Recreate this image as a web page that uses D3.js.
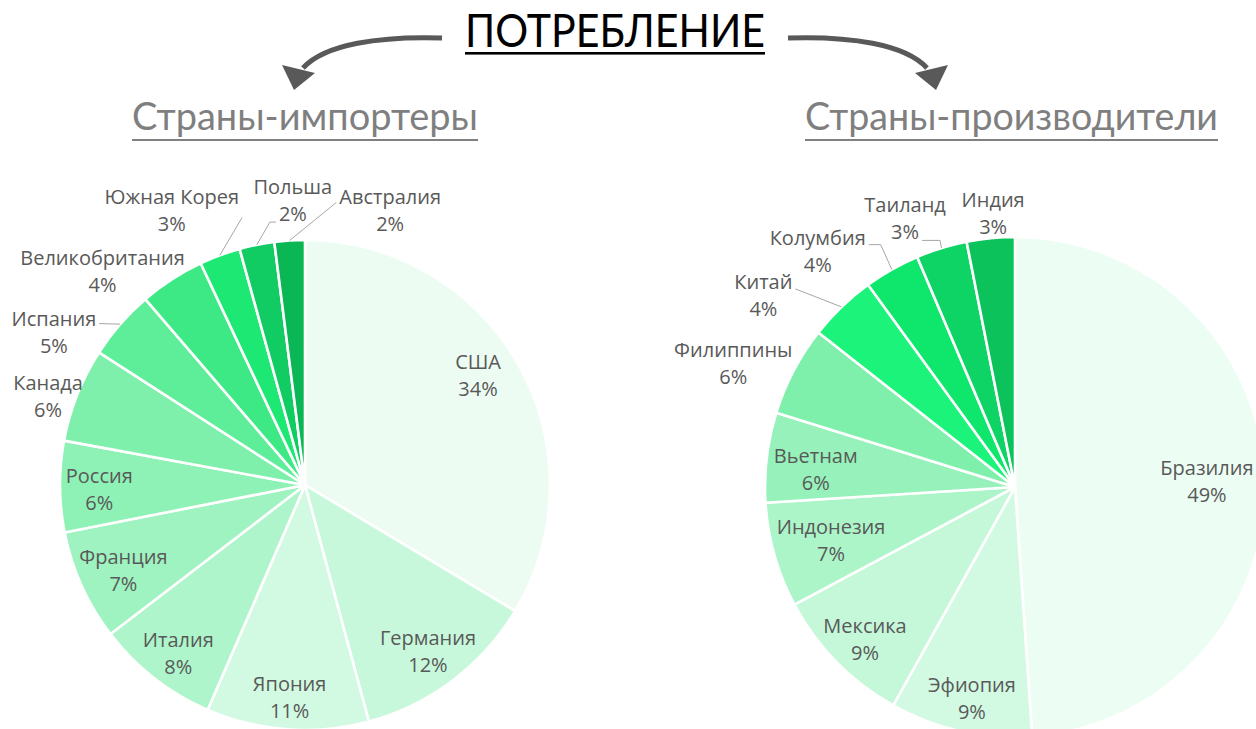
<!DOCTYPE html>
<html><head><meta charset="utf-8">
<script src="https://cdn.jsdelivr.net/npm/d3@7"></script>
<style>body{margin:0;background:#fff;} svg{display:block;}</style>
</head><body><svg id="c" width="1256" height="729"></svg>
<script>
// ---------- data ----------
const titleText = "ПОТРЕБЛЕНИЕ";
const subtitles = ["Страны-импортеры", "Страны-производители"];

const importCountries = ["США","Германия","Япония","Италия","Франция","Россия","Канада","Испания","Великобритания","Южная Корея","Польша","Австралия"];
const importShares = [33.6, 12.2, 10.7, 8.1, 7.3, 6.0, 6.2, 4.6, 4.3, 2.7, 2.3, 2.0];

const producerCountries = ["Бразилия","Эфиопия","Мексика","Индонезия","Вьетнам","Филиппины","Китай","Колумбия","Таиланд","Индия"];
const producerShares = [48.9, 9.2, 9.1, 6.8, 5.8, 5.8, 4.4, 3.6, 3.3, 3.1];

// ---------- styles ----------
const importColors = ["#ecfcf3","#c8f8db","#d2fae2","#aef5cb","#9ef3c0","#8ef2b6","#7ef0ac","#5eed98","#3de985","#1de873","#10cc62","#0bb655"];
const producerColors = ["#ecfdf3","#d2fae2","#c5f8d9","#acf5c9","#96f2ba","#7ef0ab","#1cf37b","#0ee66c","#0ed466","#0bc25b"];

// label layout: [angle shift (deg) from slice middle, radius factor, leader spec]
const importLabelLayout = [
  [-2.7,.835],[0.7,.846],[0,.87],[-1,.86],[-1,.82],[-1,.84],[-2.5,1.11],
  [-9.7,1.20,{line:0,side:"r",dy:-2,elbow:0}],
  [-10.6,1.20],
  [-5.5,1.247,{line:0,side:"r",dy:14,elbow:0}],
  [8.9,1.164,{line:1,side:"l",dy:1.5,elbow:6}],
  [20.8,1.175,{line:0,side:"l",dy:-1,elbow:0}]
];
const producerLabelLayout = [
  [0.2,.768],[-1.1,.865],[-1.1,.857],[-0.3,.766],[-1.9,.80],[-4.1,1.23],
  [-8.8,1.265,{line:0,side:"r",dy:0,elbow:0}],
  [-10.4,1.23,{line:0,side:"r",dy:0,elbow:12}],
  [-5.2,1.159,{line:1,side:"r",dy:1,elbow:18}],
  [1.0,1.096]
];

const FONT = "'Open Sans', Lato, sans-serif";
const TFONT = "Lato, 'Open Sans', sans-serif";
const svg = d3.select("#c");

// ---------- title ----------
svg.append("text").attr("x", 615).attr("y", 47)
  .attr("text-anchor","middle").attr("font-family", TFONT).attr("font-size", 47)
  .attr("fill","#000").attr("textLength", 300).attr("lengthAdjust","spacingAndGlyphs")
  .text(titleText);
svg.append("rect").attr("x", 465).attr("y", 52).attr("width", 300).attr("height", 2.6).attr("fill","#000");

// arrows
function arrow(sign){
  const cx = 615;
  const x0 = cx + sign*(-173);
  const p = d3.path();
  p.moveTo(x0, 38);
  p.bezierCurveTo(cx + sign*(-235), 36, cx + sign*(-290), 44, cx + sign*(-312), 68);
  svg.append("path").attr("d", p.toString()).attr("fill","none")
    .attr("stroke","#595959").attr("stroke-width",5);
  const h = d3.path();
  h.moveTo(cx + sign*(-321), 90);
  h.lineTo(cx + sign*(-333), 65);
  h.lineTo(cx + sign*(-300), 73);
  h.closePath();
  svg.append("path").attr("d", h.toString()).attr("fill","#595959");
}
arrow(1); arrow(-1);

// subtitles
const subPos = [{x:132, w:346}, {x:805, w:413}];
subtitles.forEach((s,i)=>{
  svg.append("text").attr("x", subPos[i].x).attr("y", 130)
    .attr("font-family", TFONT).attr("font-size", 39).attr("fill","#7f7f7f")
    .attr("textLength", subPos[i].w).attr("lengthAdjust","spacingAndGlyphs").text(s);
  svg.append("rect").attr("x", subPos[i].x).attr("y", 139).attr("width", subPos[i].w)
    .attr("height", 2).attr("fill","#808080");
});

// ---------- pies ----------
function drawPie(cfg){
  const {cx, cy, r, names, values, colors, layout} = cfg;
  const g = svg.append("g").attr("transform", `translate(${cx},${cy})`);
  const pie = d3.pie().sort(null).value(d=>d).startAngle(0).endAngle(2*Math.PI);
  const arcs = pie(values);
  const arc = d3.arc().innerRadius(0).outerRadius(r);
  g.selectAll("path.slice").data(arcs).join("path").attr("class","slice")
    .attr("d", arc).attr("fill",(d,i)=>colors[i])
    .attr("stroke","#fff").attr("stroke-width",2.6).attr("stroke-linejoin","round");

  const pct = d3.format(".0f");
  arcs.forEach((a,i)=>{
    const L = layout[i];
    const mid = (a.startAngle + a.endAngle)/2;
    const th = mid + L[0]*Math.PI/180;
    const rr = L[1]*r;
    const lx = Math.sin(th)*rr, ly = -Math.cos(th)*rr;
    const b1 = ly - 6.5, b2 = b1 + 27;
    const t = g.append("text").attr("text-anchor","middle").attr("font-family",FONT)
      .attr("font-size",20).attr("fill","#595959");
    const t1 = t.append("tspan").attr("x",lx).attr("y",b1).text(names[i]);
    const t2 = t.append("tspan").attr("x",lx).attr("y",b2).text(pct(values[i])+"%");
    if (L[2]) {
      const s = L[2];
      const tsp = s.line===0 ? t1 : t2;
      const w = tsp.node().getComputedTextLength();
      const by = (s.line===0 ? b1 : b2) + s.dy;
      const ax = s.side==="r" ? lx + w/2 + 3 : lx - w/2 - 3;
      const ex = Math.sin(mid)*r, ey = -Math.cos(mid)*r;
      const pts = [[ex,ey]];
      if (s.elbow) pts.push([s.side==="r" ? ax + s.elbow : ax - s.elbow, by]);
      pts.push([ax, by]);
      g.append("path").attr("d", d3.line()(pts)).attr("fill","none")
        .attr("stroke","#a6a6a6").attr("stroke-width",1);
    }
  });
}

drawPie({cx:305, cy:485, r:245, names:importCountries, values:importShares, colors:importColors, layout:importLabelLayout});
drawPie({cx:1015, cy:487, r:250, names:producerCountries, values:producerShares, colors:producerColors, layout:producerLabelLayout});
</script>
</body></html>
